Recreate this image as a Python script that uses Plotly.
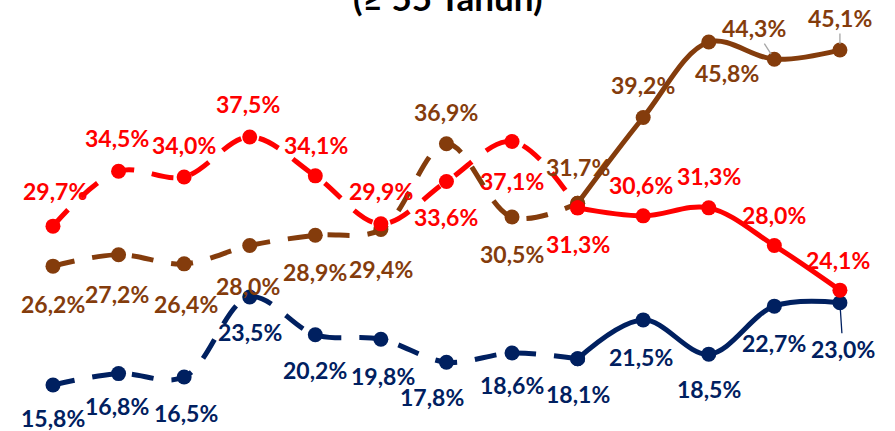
import plotly.graph_objects as go

# periods are unlabeled in the source picture, 13 points per series
periods = list(range(13))

red_vals = [29.7, 34.5, 34.0, 37.5, 34.1, 29.9, 33.6, 37.1, 31.3, 30.6, 31.3, 28.0, 24.1]
brown_vals = [26.2, 27.2, 26.4, 28.0, 28.9, 29.4, 36.9, 30.5, 31.7, 39.2, 45.8, 44.3, 45.1]
navy_vals = [15.8, 16.8, 16.5, 23.5, 20.2, 19.8, 17.8, 18.6, 18.1, 21.5, 18.5, 22.7, 23.0]

SPLIT = 8  # dashed up to this point, solid after

RED = "#FF0000"
BROWN = "#843C0C"
NAVY = "#002060"
FONT = "Lato"

# label offsets (px) relative to each marker
red_off = [(2, -35), (-2, -33), (0, -32), (-2, -33), (1, -31), (0, -33), (0, 35),
           (0, 39), (0, 36), (-2, -31), (0, -32), (0, -31), (-2, -30)]
brown_off = [(0, 38), (-2, 39), (2, 40), (-2, 40), (0, 37), (0, 39), (0, -32),
             (0, 37), (0, -36), (0, -33), (18, 31), (-20, -31), (0, -32)]
navy_off = [(0, 33), (-2, 32), (2, 36), (0, 35), (0, 35), (2, 37), (-14, 35),
            (0, 32), (0, 35), (-2, 37), (0, 35), (0, 37), (3, 46)]


def fmt(v):
    return "<b>" + f"{v:.1f}".replace(".", ",") + "%</b>"


fig = go.Figure()

for vals, color in [(navy_vals, NAVY), (brown_vals, BROWN), (red_vals, RED)]:
    fig.add_trace(go.Scatter(
        x=periods[:SPLIT + 1], y=vals[:SPLIT + 1], mode="lines+markers",
        line=dict(color=color, width=5, shape="spline", smoothing=1, dash="22px,18px"),
        marker=dict(color=color, size=15), hoverinfo="skip", showlegend=False,
    ))
    fig.add_trace(go.Scatter(
        x=periods[SPLIT:], y=vals[SPLIT:], mode="lines+markers",
        line=dict(color=color, width=5, shape="spline", smoothing=1),
        marker=dict(color=color, size=15), hoverinfo="skip", showlegend=False,
    ))

leaders = {("brown", 11): "#A6A6A6", ("brown", 12): "#A6A6A6", ("navy", 12): NAVY}

for name, vals, color, offs in [("red", red_vals, RED, red_off),
                                ("brown", brown_vals, BROWN, brown_off),
                                ("navy", navy_vals, NAVY, navy_off)]:
    for i, v in enumerate(vals):
        dx, dy = offs[i]
        key = (name, i)
        if key in leaders:
            fig.add_annotation(
                x=periods[i], y=v, text=fmt(v), showarrow=True, arrowhead=0,
                arrowwidth=1.3, arrowcolor=leaders[key], ax=dx, ay=dy,
                standoff=6, font=dict(family=FONT, size=23, color=color),
            )
        else:
            fig.add_annotation(
                x=periods[i], y=v, text=fmt(v), showarrow=False,
                xshift=dx, yshift=-dy,
                font=dict(family=FONT, size=23, color=color),
            )

fig.add_annotation(
    x=0.5, y=1, xref="paper", yref="paper", xanchor="center", yanchor="bottom",
    yshift=-20, text="<b>(≥ 55 Tahun)</b>", showarrow=False,
    font=dict(family=FONT, size=35, color="black"),
)

fig.update_layout(
    width=895, height=431,
    margin=dict(l=0, r=0, t=0, b=0),
    paper_bgcolor="white", plot_bgcolor="white",
    font=dict(family=FONT, size=23, color="black"),
    xaxis=dict(range=[-0.808, 12.84], visible=False),
    yaxis=dict(range=[11.78, 49.48], visible=False),
)

fig.write_html("out.html", config={"displayModeBar": False},
               post_script="document.body.style.margin='0';")
